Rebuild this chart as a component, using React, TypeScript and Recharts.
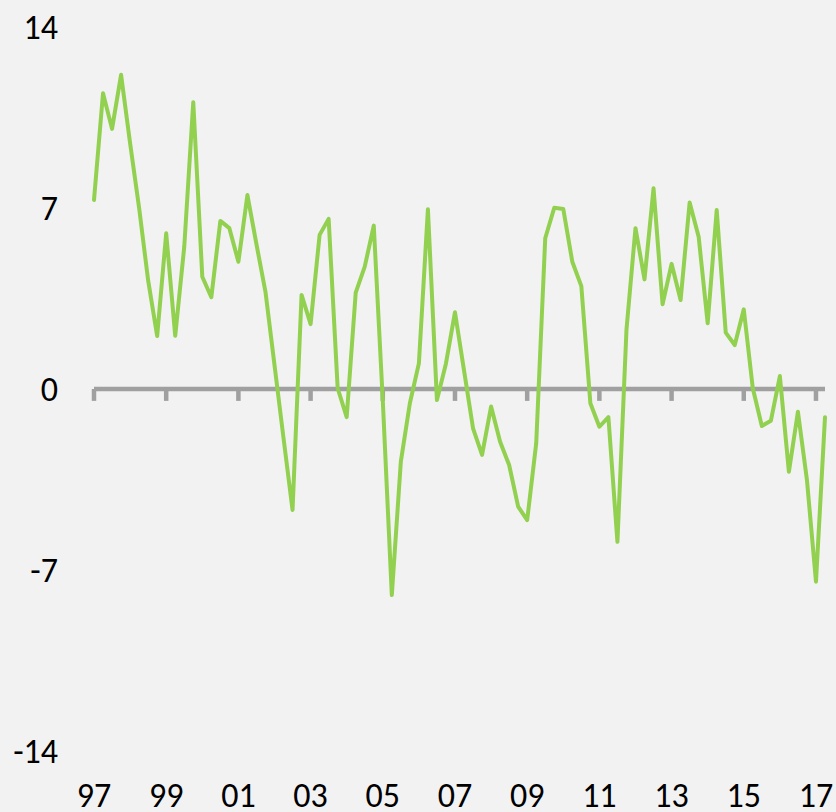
import React from 'react';
import { LineChart, Line, XAxis, YAxis, ReferenceLine } from 'recharts';

const years = ['97','98','99','00','01','02','03','04','05','06','07','08','09','10','11','12','13','14','15','16','17'];
const quarterSuffix = ['Q1','Q2','Q3','Q4'];

const values = [
  7.31, 11.44, 10.06, 12.15, 9.5, 7.0, 4.2, 2.05, 6.02, 2.06,
  5.5, 11.09, 4.34, 3.55, 6.5, 6.22, 4.92, 7.5, 5.6, 3.76,
  0.93, -1.9, -4.68, 3.64, 2.51, 5.96, 6.58, 0.03, -1.09, 3.73,
  4.73, 6.32, -0.45, -7.97, -2.81, -0.55, 0.99, 6.95, -0.43, 0.99,
  2.97, 0.72, -1.52, -2.55, -0.68, -2.04, -2.94, -4.55, -5.07, -2.1,
  5.83, 7.01, 6.96, 4.92, 3.98, -0.55, -1.46, -1.09, -5.91, 2.28,
  6.22, 4.24, 7.76, 3.28, 4.84, 3.44, 7.21, 5.89, 2.54, 6.92,
  2.18, 1.7, 3.08, 0.03, -1.43, -1.23, 0.5, -3.2, -0.88, -3.52,
  -7.45, -1.09,
];

const xTickLabels = ['97','99','01','03','05','07','09','11','13','15','17'];
const yTicks = [-14, -7, 0, 7, 14];

const categories: string[] = [];
years.forEach((y) => quarterSuffix.forEach((q) => categories.push(y + q)));

const data = values.map((v, i) => ({ q: categories[i], v }));
const tickCategories = xTickLabels.map((l) => l + 'Q1');

const FONT = "Carlito, Lato, sans-serif";

export default function App() {
  return (
    <div style={{ position: 'absolute', left: 0, top: 0, width: 836, height: 812, background: '#f2f2f2' }}>
      <LineChart width={836} height={812} data={data} margin={{ top: 27, right: 11, bottom: 0, left: 0 }}>
        <XAxis
          dataKey="q"
          interval={7}
          axisLine={false}
          tickLine={false}
          tickSize={0}
          tickMargin={32}
          height={61}
          tick={{ fontSize: 34, fill: '#000', fontFamily: FONT }}
          tickFormatter={(c: string) => c.slice(0, 2)}
        />
        <YAxis
          type="number"
          domain={[-14, 14]}
          ticks={yTicks}
          width={94}
          axisLine={false}
          tickLine={false}
          tickSize={0}
          tickMargin={36}
          tick={{ fontSize: 34, fill: '#000', fontFamily: FONT }}
        />
        <ReferenceLine y={0} stroke="#a0a0a0" strokeWidth={4.5} />
        {tickCategories.map((c) => (
          <ReferenceLine
            key={c}
            segment={[{ x: c, y: 0 }, { x: c, y: -0.46 }]}
            stroke="#a0a0a0"
            strokeWidth={4.5}
          />
        ))}
        <Line
          type="linear"
          dataKey="v"
          stroke="#92d050"
          strokeWidth={4}
          dot={false}
          strokeLinejoin="round"
          strokeLinecap="round"
          isAnimationActive={false}
        />
      </LineChart>
    </div>
  );
}
